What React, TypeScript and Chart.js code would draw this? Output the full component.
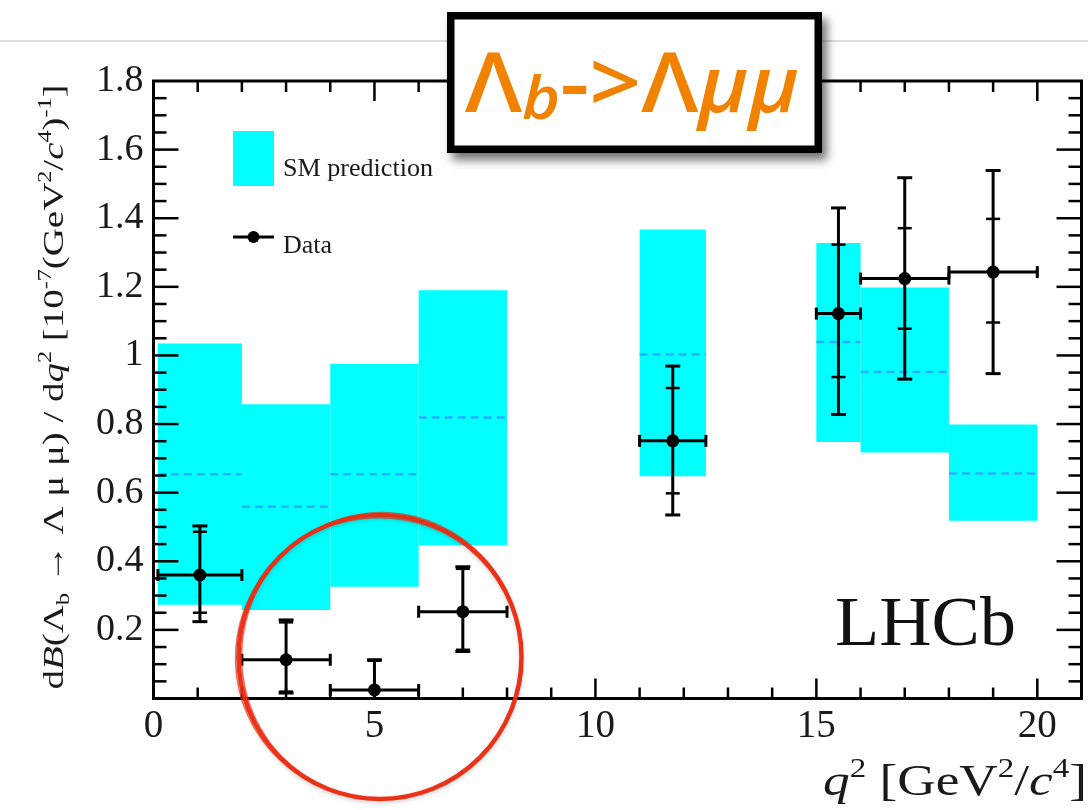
import React, { useEffect, useRef } from 'react';
import { Chart, registerables } from 'chart.js';

Chart.register(...registerables);

// ---- data ----
const binLow = [0.1, 2, 4, 6, 11, 15, 16, 18];
const binHigh = [2, 4, 6, 8, 12.5, 16, 18, 20];

const smLow = [0.273, 0.258, 0.326, 0.447, 0.648, 0.748, 0.717, 0.518];
const smHigh = [1.035, 0.858, 0.976, 1.19, 1.367, 1.328, 1.198, 0.799];
const smCentral = [0.654, 0.559, 0.654, 0.819, 1.003, 1.039, 0.952, 0.656];

const dataX = [1.05, 3, 5, 7, 11.75, 15.5, 17, 19];
const dataY = [0.36, 0.113, 0.025, 0.253, 0.751, 1.122, 1.224, 1.243];
const dataTotalHigh = [0.503, 0.229, 0.113, 0.384, 0.969, 1.43, 1.518, 1.539];
const dataTotalLow = [0.224, 0.016, 0.0, 0.137, 0.535, 0.828, 0.931, 0.947];
const dataStatHigh = [0.486, 0.222, 0.11, 0.378, 0.905, 1.323, 1.371, 1.398];
const dataStatLow = [0.25, 0.02, 0.0, 0.142, 0.598, 0.937, 1.078, 1.096];

const xTickLabels = ['0', '5', '10', '15', '20'];
const yTickLabels = ['0.2', '0.4', '0.6', '0.8', '1', '1.2', '1.4', '1.6', '1.8'];

type Seg = { t: string; it?: boolean; sup?: boolean; sub?: boolean };

const yTitleSegs: Seg[] = [
  { t: 'd' }, { t: 'B', it: true }, { t: '(\u039B' }, { t: 'b', sub: true },
  { t: ' \u2192 \u039B \u03BC \u03BC) / d' }, { t: 'q', it: true }, { t: '2', sup: true },
  { t: ' [10' }, { t: '-7', sup: true }, { t: '(GeV' }, { t: '2', sup: true }, { t: '/' },
  { t: 'c', it: true }, { t: '4', sup: true }, { t: ')' }, { t: '-1', sup: true }, { t: ']' },
];
const xTitleSegs: Seg[] = [
  { t: 'q', it: true }, { t: '2', sup: true }, { t: ' [GeV' }, { t: '2', sup: true },
  { t: '/' }, { t: 'c', it: true }, { t: '4', sup: true }, { t: ']' },
];
const legendSM = 'SM prediction';
const legendData = 'Data';
const experimentLabel = 'LHCb';
const bannerMain1 = '\u039B';
const bannerSub = 'b';
const bannerMain2 = '->\u039B';
const bannerMu = '\u03BC\u03BC';

const SERIF = '"Liberation Serif", "Times New Roman", serif';
const SANS = '"Open Sans", "Noto Sans", sans-serif';

function segFont(s: Seg, size: number) {
  const sz = s.sup || s.sub ? size * 0.62 : size;
  return `${s.it ? 'italic ' : ''}${sz}px ${SERIF}`;
}
function measureSegs(ctx: CanvasRenderingContext2D, segs: Seg[], size: number) {
  let w = 0;
  for (const s of segs) {
    ctx.font = segFont(s, size);
    w += ctx.measureText(s.t).width;
  }
  return w;
}
function drawSegs(ctx: CanvasRenderingContext2D, segs: Seg[], x: number, y: number, size: number) {
  let cx = x;
  for (const s of segs) {
    ctx.font = segFont(s, size);
    const dy = s.sup ? -size * 0.4 : s.sub ? size * 0.2 : 0;
    ctx.fillText(s.t, cx, y + dy);
    cx += ctx.measureText(s.t).width;
  }
}
function fitText(ctx: CanvasRenderingContext2D, text: string, font: string, x: number, y: number, width: number) {
  ctx.font = font;
  const w = ctx.measureText(text).width;
  ctx.save();
  ctx.translate(x, y);
  ctx.scale(width / w, 1);
  ctx.fillText(text, 0, 0);
  ctx.restore();
}

const decorPlugin = {
  id: 'decor',
  beforeDraw(chart: any) {
    const ctx: CanvasRenderingContext2D = chart.ctx;
    ctx.save();
    ctx.fillStyle = '#fff';
    ctx.fillRect(0, 0, chart.width, chart.height);
    ctx.strokeStyle = '#d2d2d2';
    ctx.lineWidth = 1.5;
    ctx.beginPath();
    ctx.moveTo(0, 41);
    ctx.lineTo(chart.width, 41);
    ctx.stroke();
    ctx.restore();
  },
  afterDatasetsDraw(chart: any) {
    const ctx: CanvasRenderingContext2D = chart.ctx;
    const xs = chart.scales.x;
    const ys = chart.scales.y;
    ctx.save();
    ctx.strokeStyle = '#000';
    ctx.lineWidth = 3;
    ctx.lineCap = 'butt';
    const seg = (x1: number, y1: number, x2: number, y2: number) => {
      ctx.beginPath();
      ctx.moveTo(x1, y1);
      ctx.lineTo(x2, y2);
      ctx.stroke();
    };
    for (let i = 0; i < dataX.length; i++) {
      const px = xs.getPixelForValue(dataX[i]);
      const py = ys.getPixelForValue(dataY[i]);
      const pxL = xs.getPixelForValue(binLow[i]);
      const pxR = xs.getPixelForValue(binHigh[i]);
      const pT = ys.getPixelForValue(dataTotalHigh[i]);
      const pB = ys.getPixelForValue(dataTotalLow[i]);
      const sT = ys.getPixelForValue(dataStatHigh[i]);
      const sB = ys.getPixelForValue(dataStatLow[i]);
      seg(pxL, py, pxR, py);
      seg(pxL, py - 6, pxL, py + 6);
      seg(pxR, py - 6, pxR, py + 6);
      seg(px, pT, px, pB);
      seg(px - 7.5, pT, px + 7.5, pT);
      seg(px - 7.5, pB, px + 7.5, pB);
      ctx.lineWidth = 2.5;
      seg(px - 7, sT, px + 7, sT);
      seg(px - 7, sB, px + 7, sB);
      ctx.lineWidth = 3;
    }
    ctx.restore();
  },
  afterDraw(chart: any) {
    const ctx: CanvasRenderingContext2D = chart.ctx;
    const { left, right, top, bottom } = chart.chartArea;
    const xs = chart.scales.x;
    const ys = chart.scales.y;
    ctx.save();
    // frame ticks (inward)
    ctx.strokeStyle = '#000';
    ctx.lineWidth = 2.5;
    const seg = (x1: number, y1: number, x2: number, y2: number) => {
      ctx.beginPath();
      ctx.moveTo(x1, y1);
      ctx.lineTo(x2, y2);
      ctx.stroke();
    };
    for (let v = 1; v < 21; v++) {
      const px = xs.getPixelForValue(v);
      const L = v % 5 === 0 ? 20 : 11;
      seg(px, bottom, px, bottom - L);
      seg(px, top, px, top + L);
    }
    for (let i = 1; i < 36; i++) {
      const py = ys.getPixelForValue(i * 0.05);
      const L = i % 4 === 0 ? 25 : 13;
      seg(left, py, left + L, py);
      seg(right, py, right - L, py);
    }
    ctx.lineWidth = 3;
    ctx.strokeRect(left, top, right - left, bottom - top);

    // legend
    ctx.fillStyle = '#00ffff';
    ctx.fillRect(233, 131, 41, 55);
    ctx.fillStyle = '#1a1a1a';
    ctx.textBaseline = 'alphabetic';
    ctx.textAlign = 'left';
    fitText(ctx, legendSM, `25px ${SERIF}`, 283, 176, 150);
    ctx.strokeStyle = '#000';
    ctx.lineWidth = 3;
    seg(233, 237, 274, 237);
    ctx.fillStyle = '#000';
    ctx.beginPath();
    ctx.arc(253.5, 237, 6, 0, Math.PI * 2);
    ctx.fill();
    ctx.fillStyle = '#1a1a1a';
    fitText(ctx, legendData, `25px ${SERIF}`, 283, 253, 49);

    // LHCb label
    ctx.fillStyle = '#111';
    fitText(ctx, experimentLabel, `70px ${SERIF}`, 835, 645, 181);

    // y title
    ctx.save();
    ctx.translate(63, 387);
    ctx.rotate(-Math.PI / 2);
    const ySize = 30;
    const yw = measureSegs(ctx, yTitleSegs, ySize);
    ctx.scale(605 / yw, 1);
    ctx.fillStyle = '#1a1a1a';
    drawSegs(ctx, yTitleSegs, -yw / 2, 0, ySize);
    ctx.restore();

    // x title
    ctx.save();
    const xSize = 44;
    const xw = measureSegs(ctx, xTitleSegs, xSize);
    ctx.translate(1087 - 264, 795);
    ctx.scale(264 / xw, 1);
    ctx.fillStyle = '#1a1a1a';
    drawSegs(ctx, xTitleSegs, 0, 0, xSize);
    ctx.restore();

    // banner box
    ctx.save();
    ctx.shadowColor = 'rgba(0,0,0,0.55)';
    ctx.shadowBlur = 9;
    ctx.shadowOffsetX = 5;
    ctx.shadowOffsetY = 7;
    ctx.fillStyle = '#000';
    ctx.fillRect(447, 12, 375, 141);
    ctx.restore();
    ctx.fillStyle = '#fff';
    ctx.fillRect(454.5, 19.5, 360, 126);

    // banner text
    ctx.save();
    ctx.fillStyle = '#F08200';
    const fMain = `600 84px ${SANS}`;
    const fSub = `italic 600 60px ${SANS}`;
    const fMu = `italic 600 78px ${SANS}`;
    ctx.font = fMain;
    const w1 = ctx.measureText(bannerMain1).width;
    const w3 = ctx.measureText(bannerMain2).width;
    ctx.font = fSub;
    const w2 = ctx.measureText(bannerSub).width;
    ctx.font = fMu;
    const w4 = ctx.measureText(bannerMu).width;
    const total = w1 + w2 + w3 + w4;
    ctx.translate(465, 112);
    ctx.scale(334 / total, 1);
    let cx = 0;
    ctx.font = fMain;
    ctx.fillText(bannerMain1, cx, 0);
    cx += w1;
    ctx.font = fSub;
    ctx.fillText(bannerSub, cx, 7);
    cx += w2;
    ctx.font = fMain;
    ctx.fillText(bannerMain2, cx, 0);
    cx += w3;
    ctx.font = fMu;
    ctx.fillText(bannerMu, cx, 0);
    ctx.restore();

    // red hand-drawn circle
    ctx.save();
    ctx.shadowColor = 'rgba(0,0,0,0.18)';
    ctx.shadowBlur = 4;
    ctx.shadowOffsetX = 0;
    ctx.shadowOffsetY = 2;
    ctx.strokeStyle = 'rgba(236,40,16,0.95)';
    ctx.lineWidth = 4.5;
    ctx.beginPath();
    ctx.ellipse(380, 657, 141.5, 142, 0, 0, Math.PI * 2);
    ctx.stroke();
    ctx.restore();
    ctx.save();
    ctx.strokeStyle = 'rgba(236,50,20,0.7)';
    ctx.lineWidth = 1.5;
    const variants = [
      [1.5, -1, 140, 143.5, 0.05],
      [-1, 1.2, 143.5, 140.5, -0.04],
    ];
    for (const [dx, dy, rx, ry, rot] of variants) {
      ctx.beginPath();
      ctx.ellipse(380 + dx, 657 + dy, rx, ry, rot, 0, Math.PI * 2);
      ctx.stroke();
    }
    ctx.restore();

    ctx.restore();
  },
};

export default function App() {
  const ref = useRef<HTMLCanvasElement | null>(null);
  useEffect(() => {
    document.body.style.margin = '0';
    const canvas = ref.current;
    if (!canvas) return;

    const centralPoints: { x: number; y: number | null }[] = [];
    binLow.forEach((lo, i) => {
      centralPoints.push({ x: lo, y: smCentral[i] });
      centralPoints.push({ x: binHigh[i], y: smCentral[i] });
      centralPoints.push({ x: binHigh[i], y: null });
    });

    const datasets: any[] = [
      {
        type: 'scatter',
        label: 'Data',
        data: dataX.map((x, i) => ({ x, y: dataY[i] })),
        pointRadius: 6.5,
        pointBackgroundColor: '#000',
        pointBorderWidth: 0,
        showLine: false,
        order: 0,
      },
      {
        type: 'line',
        label: 'SM central',
        data: centralPoints,
        borderColor: 'rgba(50,150,255,0.75)',
        borderDash: [8, 5],
        borderWidth: 2.5,
        pointRadius: 0,
        fill: false,
        spanGaps: false,
        tension: 0,
        order: 1,
      },
    ];
    binLow.forEach((lo, i) => {
      datasets.push({
        type: 'line',
        label: 'SM prediction',
        data: [
          { x: lo, y: smLow[i] },
          { x: lo, y: smHigh[i] },
          { x: binHigh[i], y: smHigh[i] },
          { x: binHigh[i], y: smLow[i] },
        ],
        fill: 'shape',
        backgroundColor: '#00ffff',
        borderColor: 'rgba(0,0,0,0)',
        borderWidth: 0,
        pointRadius: 0,
        tension: 0,
        order: 2,
      });
    });

    const chart = new Chart(canvas, {
      type: 'scatter',
      data: { datasets },
      options: {
        animation: false,
        responsive: false,
        events: [],
        layout: { padding: { top: 81, right: 1, left: 0, bottom: 0 } },
        plugins: {
          legend: { display: false },
          tooltip: { enabled: false },
          title: { display: false },
        },
        scales: {
          x: {
            type: 'linear',
            min: 0,
            max: 21,
            grid: { display: false, drawTicks: false },
            border: { display: false },
            ticks: {
              stepSize: 5,
              includeBounds: false,
              autoSkip: false,
              maxRotation: 0,
              padding: 5,
              color: '#1a1a1a',
              font: { family: SERIF, size: 39 },
              callback: (v: any) => {
                const s = String(Math.round(Number(v) * 100) / 100);
                return xTickLabels.includes(s) ? s : '';
              },
            },
            afterFit: (s: any) => {
              s.height = 111.5;
            },
          },
          y: {
            type: 'linear',
            min: 0,
            max: 1.8,
            grid: { display: false, drawTicks: false },
            border: { display: false },
            ticks: {
              stepSize: 0.2,
              includeBounds: false,
              autoSkip: false,
              padding: 10,
              color: '#1a1a1a',
              font: { family: SERIF, size: 38 },
              callback: (v: any) => {
                const s = String(Number(Number(v).toFixed(1)));
                return yTickLabels.includes(s) ? s : '';
              },
            },
            afterFit: (s: any) => {
              s.width = 153.5;
            },
          },
        },
      } as any,
      plugins: [decorPlugin],
    });
    return () => chart.destroy();
  }, []);

  return (
    <div style={{ position: 'relative', width: 1088, height: 810 }}>
      <canvas ref={ref} width={1088} height={810} style={{ display: 'block' }} />
    </div>
  );
}
